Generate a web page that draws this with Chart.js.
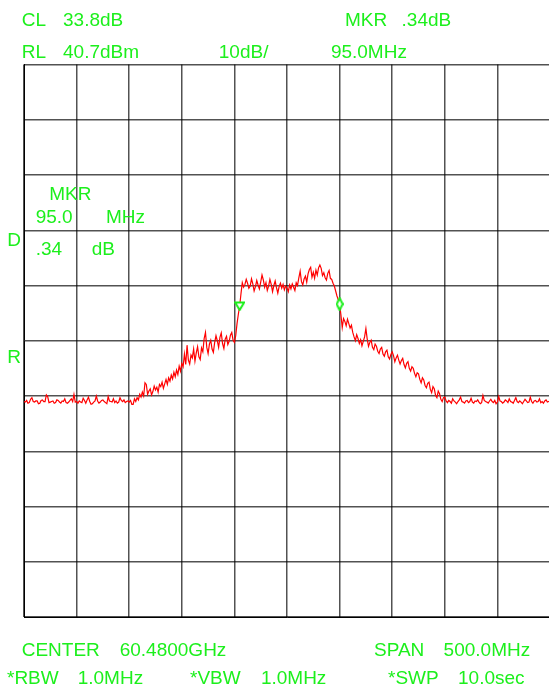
<!DOCTYPE html>
<html>
<head>
<meta charset="utf-8">
<script src="https://cdn.jsdelivr.net/npm/chart.js@4/dist/chart.umd.min.js"></script>
<style>
  html, body { margin: 0; padding: 0; background: #fff; overflow: hidden; width: 549px; height: 686px; }
  #wrap { position: relative; width: 549px; height: 686px; overflow: hidden; }
  #spectrum { position: absolute; left: 0; top: 0; }
  .lbl { position: absolute; font-family: "Liberation Sans", Arial, sans-serif; font-size: 19px; line-height: 19px; color: #1cef1c; white-space: nowrap; }
</style>
</head>
<body>
<div id="wrap">
  <canvas id="spectrum" width="560" height="686"></canvas>
</div>
<script>
// sweep settings (MHz)
var CENTER = 60480;
var SPAN = 500;
var POINTS = 401;

// trace level, dBm, one value per sweep point
var levels = [
  -20.3,-20.4,-20.1,-20.6,-20.5,-19.9,-19.6,-20.3,-20.4,-20.2,
  -20.2,-20.7,-20.6,-20.1,-20.0,-20.3,-20.3,-19.1,-19.4,-20.5,
  -20.4,-20.3,-20.2,-20.6,-20.5,-20.0,-20.1,-20.4,-20.6,-20.2,
  -20.3,-19.8,-20.5,-20.6,-20.4,-20.1,-19.8,-20.3,-19.0,-20.4,
  -20.3,-20.6,-20.2,-20.4,-20.5,-19.7,-20.1,-20.6,-20.0,-19.5,
  -20.3,-20.8,-20.7,-20.4,-20.2,-19.3,-20.2,-20.6,-20.4,-20.1,
  -20.0,-20.3,-20.5,-20.7,-19.4,-20.2,-20.3,-20.4,-19.8,-20.5,
  -20.2,-20.6,-20.4,-19.6,-20.1,-20.3,-20.0,-20.5,-20.3,-20.2,
  -20.4,-20.1,-20.8,-20.8,-19.8,-20.3,-19.6,-20.0,-19.0,-19.5,
  -18.6,-19.3,-16.9,-17.2,-19.0,-18.4,-18.0,-19.1,-18.5,-17.5,
  -18.2,-17.7,-18.6,-17.2,-17.6,-16.8,-17.9,-17.1,-16.3,-17.2,
  -16.0,-16.6,-15.5,-16.2,-15.0,-15.8,-14.6,-15.4,-13.9,-14.8,
  -13.4,-14.0,-11.7,-13.6,-10.1,-12.8,-13.5,-11.9,-12.4,-10.8,
  -13.0,-11.5,-10.4,-12.2,-12.7,-10.6,-11.3,-8.9,-7.8,-10.5,
  -11.6,-9.9,-9.2,-10.8,-11.4,-9.6,-8.4,-9.3,-10.5,-8.7,
  -7.9,-9.8,-10.7,-9.0,-8.5,-10.0,-9.4,-8.3,-7.8,-9.2,
  -9.6,-8.4,-6.2,-4.5,-3.0,-0.8,1.2,0.4,0.9,1.8,
  1.1,0.2,0.6,1.9,1.0,-0.3,0.5,1.6,0.8,0.1,
  1.3,2.6,1.7,0.4,1.2,-0.2,0.6,1.8,0.9,-0.4,
  0.7,1.5,0.3,-0.7,0.5,1.1,0.2,0.9,-0.1,0.6,
  0.3,-0.4,0.8,0.1,1.0,0.4,-0.2,1.2,0.7,2.1,
  3.3,1.4,0.8,1.9,2.4,1.3,2.8,3.6,4.0,2.2,
  3.1,2.0,3.5,2.6,3.9,4.4,3.8,2.5,3.0,2.1,
  1.7,2.9,3.4,2.0,1.8,1.1,0.6,-0.3,-1.2,-1.9,
  -2.66,-4.6,-6.9,-5.3,-5.8,-6.6,-5.4,-6.2,-7.0,-6.5,
  -7.8,-8.6,-9.3,-8.2,-8.9,-9.8,-9.1,-10.2,-9.4,-8.6,
  -7.1,-9.0,-10.3,-9.6,-9.2,-10.5,-10.9,-9.9,-10.3,-11.2,
  -11.6,-10.8,-10.5,-11.7,-12.1,-11.3,-11.0,-12.2,-12.6,-11.8,
  -11.3,-12.0,-13.1,-12.4,-11.9,-12.8,-13.5,-12.9,-12.5,-13.6,
  -14.2,-13.4,-13.1,-14.3,-14.8,-14.0,-14.3,-15.2,-15.8,-15.1,
  -15.3,-16.3,-16.9,-16.0,-16.4,-17.4,-17.8,-17.0,-16.8,-18.1,
  -18.7,-17.6,-18.0,-19.2,-19.6,-18.4,-18.9,-19.9,-20.3,-19.6,
  -19.5,-20.2,
  -20.5,-20.1,-20.3,-20.6,-19.8,-20.2,-20.4,-20.7,-20.3,-20.0,
  -19.5,-20.3,-20.4,-20.6,-20.2,-20.1,-20.5,-20.3,-19.7,-20.4,
  -20.6,-20.2,-20.3,-20.0,-20.4,-20.7,-20.5,-19.2,-20.1,-20.3,
  -20.4,-20.6,-20.2,-19.9,-20.3,-20.5,-20.1,-20.7,-20.4,-19.4,
  -20.2,-20.3,-20.6,-20.4,-20.0,-20.2,-20.5,-19.8,-20.3,-20.4,
  -20.6,-20.1,-19.6,-20.3,-20.5,-20.2,-20.4,-20.7,-20.3,-19.9,
  -20.2,-20.5,-20.4,-19.5,-20.3,-20.6,-20.2,-20.1,-20.4,-20.3,
  -19.8,-20.5,-20.3,-20.6,-20.2,-20.0,-20.4,-20.3,-20.2
];

// markers: reference (triangle) and delta (diamond)
var markerFreqs = [60435, 60530];
var markerLevels = [-3.0, -2.66];

// display scale
var refLevel = 40.7;
var dbPerDiv = 10;
var divisions = 10;

var labels = [
  { t: 'CL', x: 21.7, b: 26.3 }, { t: '33.8dB', x: 63, b: 26.3 },
  { t: 'MKR', x: 345, b: 26.3 }, { t: '.34dB', x: 401.6, b: 26.3 },
  { t: 'RL', x: 21.7, b: 57.8 }, { t: '40.7dBm', x: 63, b: 57.8 },
  { t: '10dB/', x: 218.8, b: 57.8 }, { t: '95.0MHz', x: 330.9, b: 57.8 },
  { t: 'MKR', x: 49.3, b: 200 },
  { t: '95.0', x: 35.7, b: 223.3 }, { t: 'MHz', x: 106, b: 223.3 },
  { t: 'D', x: 7.3, b: 246 },
  { t: '.34', x: 35.7, b: 255 }, { t: 'dB', x: 91.7, b: 255 },
  { t: 'R', x: 7.3, b: 363.3 },
  { t: 'CENTER', x: 21.7, b: 656 }, { t: '60.4800GHz', x: 119.7, b: 656 },
  { t: 'SPAN', x: 374, b: 656 }, { t: '500.0MHz', x: 443.6, b: 656 },
  { t: '*RBW', x: 7, b: 684 }, { t: '1.0MHz', x: 77.7, b: 684 },
  { t: '*VBW', x: 190, b: 684 }, { t: '1.0MHz', x: 260.9, b: 684 },
  { t: '*SWP', x: 388, b: 684 }, { t: '10.0sec', x: 458, b: 684 }
];

var wrap = document.getElementById('wrap');
labels.forEach(function (l) {
  var d = document.createElement('div');
  d.className = 'lbl';
  d.textContent = l.t;
  d.style.left = l.x + 'px';
  d.style.top = (l.b - 16.1) + 'px';
  wrap.appendChild(d);
});

var startF = CENTER - SPAN / 2;
var stopF = CENTER + SPAN / 2;
var trace = levels.map(function (v, i) {
  return { x: startF + i * SPAN / (POINTS - 1), y: v };
});
var markers = markerFreqs.map(function (f, i) { return { x: f, y: markerLevels[i] }; });

function makeTriangle() {
  var c = document.createElement('canvas');
  c.width = 11; c.height = 10;
  var g = c.getContext('2d');
  g.beginPath();
  g.moveTo(1, 1.5); g.lineTo(10, 1.5); g.lineTo(5.5, 9); g.closePath();
  g.fillStyle = '#fff'; g.fill();
  g.strokeStyle = '#1cef1c'; g.lineWidth = 2; g.stroke();
  return c;
}
function makeDiamond() {
  var c = document.createElement('canvas');
  c.width = 8; c.height = 14;
  var g = c.getContext('2d');
  g.beginPath();
  g.moveTo(4, 1); g.lineTo(7, 7); g.lineTo(4, 13); g.lineTo(1, 7); g.closePath();
  g.fillStyle = '#fff'; g.fill();
  g.strokeStyle = '#1cef1c'; g.lineWidth = 2; g.stroke();
  return c;
}

var gridOpts = { color: 'rgba(0,0,0,0.68)', lineWidth: 1.5, drawTicks: false };

new Chart(document.getElementById('spectrum'), {
  type: 'line',
  data: {
    datasets: [{
      label: 'trace',
      data: trace,
      borderColor: '#ff0000',
      borderWidth: 1.2,
      pointRadius: 0,
      tension: 0,
      order: 2
    }, {
      label: 'markers',
      data: markers,
      showLine: false,
      pointStyle: [makeTriangle(), makeDiamond()],
      pointRadius: 5,
      order: 1
    }]
  },
  options: {
    responsive: false,
    animation: false,
    events: [],
    layout: { padding: { left: 24, top: 64.5, right: 10, bottom: 69 } },
    plugins: { legend: { display: false }, tooltip: { enabled: false } },
    scales: {
      x: {
        type: 'linear',
        min: startF, max: stopF,
        afterBuildTicks: function (ax) {
          var t = [];
          for (var i = 0; i <= divisions; i++) t.push({ value: startF + i * SPAN / divisions });
          ax.ticks = t;
        },
        ticks: { display: false },
        grid: gridOpts,
        border: { display: true, color: '#000', width: 1 }
      },
      y: {
        type: 'linear',
        min: refLevel - dbPerDiv * divisions, max: refLevel,
        afterBuildTicks: function (ax) {
          var t = [];
          for (var i = 0; i <= divisions; i++) t.push({ value: refLevel - i * dbPerDiv });
          ax.ticks = t;
        },
        ticks: { display: false },
        grid: gridOpts,
        border: { display: true, color: '#000', width: 1 }
      }
    }
  }
});
</script>
</body>
</html>
